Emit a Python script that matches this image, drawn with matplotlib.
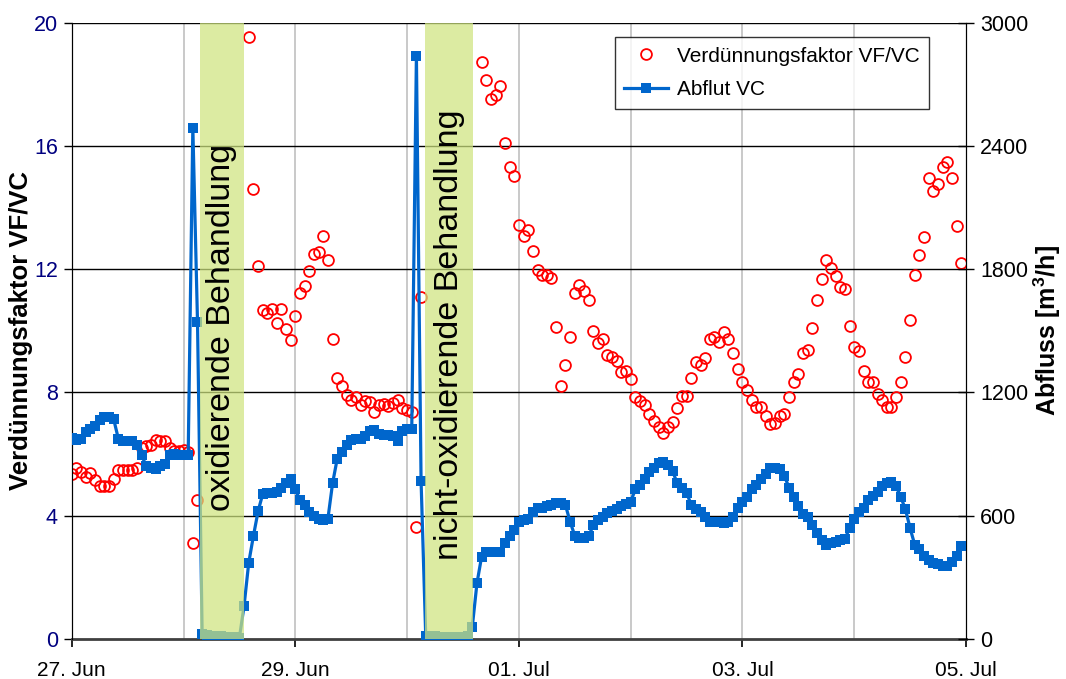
import numpy as np
import pandas as pd
import matplotlib
matplotlib.use("Agg")
import matplotlib.pyplot as plt
import matplotlib.dates as mdates

plt.rcParams['font.family'] = ['Liberation Sans', 'DejaVu Sans']

# hourly time axis starting 27 Jun
start = "2006-06-27 00:00"
n_hours = 192

# Verdünnungsfaktor VF/VC (left axis), NaN = no value
nan = np.nan
vf = ([5.34, 5.56, 5.43, 5.25, 5.37, 5.15, 4.97, 4.97, 4.97, 5.2, 5.47, 5.47, 5.47, 5.48,
       5.55, 6.2, 6.26, 6.3, 6.47, 6.43, 6.42, 6.19, 6.1, 6.1, 6.13, 6.05, 3.1, 4.51]
      + [nan] * 10
      + [19.56, 14.6, 12.1, 10.67, 10.57, 10.7, 10.25, 10.7, 10.05, 9.69, 10.47, 11.24, 11.47,
         11.93, 12.51, 12.57, 13.07, 12.29, 9.73, 8.47, 8.21, 7.92, 7.76, 7.85, 7.59, 7.72, 7.7,
         7.37, 7.59, 7.63, 7.55, 7.66, 7.75, 7.5, 7.43, 7.37, 3.62, 11.11]
      + [nan] * 12
      + [18.74, 18.14, 17.53, 17.66, 17.94, 16.1, 15.33, 15.03, 13.45, 13.09, 13.29, 12.6, 11.99,
         11.8, 11.82, 11.73, 10.12, 8.21, 8.9, 9.79, 11.22, 11.49, 11.3, 11.0, 10.01, 9.6, 9.74,
         9.22, 9.14, 9.03, 8.65, 8.71, 8.44, 7.86, 7.72, 7.59, 7.3, 7.08, 6.87, 6.69, 6.89, 7.03,
         7.48, 7.9, 7.9, 8.48, 9.0, 8.89, 9.11, 9.74, 9.79, 9.64, 9.97, 9.75, 9.27, 8.75, 8.33,
         8.08, 7.76, 7.54, 7.54, 7.25, 6.97, 7.02, 7.25, 7.3, 7.86, 8.33, 8.59, 9.27, 9.38, 10.1,
         11.0, 11.68, 12.3, 12.05, 11.78, 11.42, 11.35, 10.16, 9.49, 9.33, 8.71, 8.33, 8.33, 7.95,
         7.76, 7.54, 7.54, 7.86, 8.33, 9.16, 10.35, 11.8, 12.47, 13.04, 14.98, 14.56, 14.77,
         15.33, 15.5, 14.98, 13.41, 12.2])

# Abflut VC in m3/h (right axis)
abfluss = ([980, 970, 975, 1005, 1020, 1035, 1065, 1080, 1080, 1070, 975, 965, 965, 965, 945,
            895, 840, 830, 825, 840, 850, 895, 900, 895, 895, 895, 2490, 1545]
           + [22, 18, 15, 15, 12, 9, 8, 6, 5]
           + [160, 370, 500, 620, 705, 712, 712, 717, 732, 757, 780, 727, 675, 652, 615, 600,
              585, 577, 585, 757, 877, 910, 945, 967, 975, 975, 990, 1012, 1017, 997, 993, 993,
              990, 965, 1012, 1020, 1020, 2840, 770]
           + [13, 12, 12, 10, 10, 10, 10, 10, 10, 15, 58, 270, 400]
           + [420, 420, 420, 420, 465, 502, 528, 570, 576, 585, 615, 635, 637, 645, 652, 663, 663,
              651, 570, 502, 493, 493, 502, 553, 577, 592, 610, 622, 633, 646, 657, 667, 727, 750,
              780, 810, 832, 855, 862, 847, 817, 757, 735, 712, 652, 630, 615, 592, 570, 570, 567,
              562, 570, 594, 637, 667, 690, 727, 750, 780, 802, 831, 831, 825, 795, 735, 690, 645,
              607, 594, 555, 517, 480, 457, 465, 472, 480, 485, 540, 585, 615, 637, 675, 697, 717,
              742, 757, 765, 742, 690, 630, 538, 457, 435, 405, 382, 367, 365, 354, 354, 375, 405,
              450])

assert len(vf) == n_hours and len(abfluss) == n_hours
times = pd.date_range(start, periods=n_hours, freq="h")

# treatment periods (start, end, label, label centre on right axis)
treatments = [("2006-06-28 03:33", "2006-06-28 12:55", "oxidierende Behandlung", 1515),
              ("2006-06-30 03:50", "2006-06-30 14:12", "nicht-oxidierende Behandlung", 1480)]

x_start = pd.Timestamp("2006-06-27")
x_end = pd.Timestamp("2006-07-05")

fig = plt.figure(figsize=(10.66, 6.79), dpi=100)
ax1 = fig.add_axes([0.0673, 0.0594, 0.9062 - 0.0673, 0.966 - 0.0594])
ax2 = ax1.twinx()

ax1.set_xlim(x_start, x_end)
ax1.set_ylim(0, 20)
ax2.set_ylim(0, 3000)

# grid
for d in pd.date_range("2006-06-28", "2006-07-04", freq="D"):
    ax1.axvline(d, color="#c0c0c0", lw=1.2, zorder=0)
for yv in [4, 8, 12, 16, 20]:
    ax1.axhline(yv, color="black", lw=1.0, zorder=0.5)

l1, = ax1.plot(times, vf, linestyle="none", marker="o", markersize=7.8,
               markerfacecolor="none", markeredgecolor="#ff0000", markeredgewidth=1.3,
               label="Verdünnungsfaktor VF/VC", zorder=3)
l2, = ax2.plot(times, abfluss, color="#0066cc", lw=2.3, marker="s", markersize=7.2,
               markeredgewidth=0, label="Abflut VC", zorder=3)

for s, e, txt, ypos in treatments:
    s = pd.Timestamp(s); e = pd.Timestamp(e)
    ax2.axvspan(s, e, color="#cfe47f", alpha=0.72, lw=0, zorder=4)
    mid = s + (e - s) / 2
    ax2.text(mid, ypos, txt, rotation=90, ha="center", va="center", fontsize=24.5,
             color="black", zorder=5)

# x axis
ax1.xaxis.set_major_locator(mdates.DayLocator(interval=2))
ax1.xaxis.set_major_formatter(mdates.DateFormatter("%d. %b"))
ax1.tick_params(axis="x", which="major", direction="out", length=6, width=1.2,
                labelsize=15, pad=10, colors="black")
ax1.set_yticks([0, 4, 8, 12, 16, 20])
ax1.tick_params(axis="y", direction="out", length=6, width=1, labelsize=15.5,
                labelcolor="#000080", pad=4)
ax2.set_yticks([0, 600, 1200, 1800, 2400, 3000])
ax2.tick_params(axis="y", direction="inout", length=12, width=1, labelsize=15.5, pad=4)

for sp in ["top"]:
    ax1.spines[sp].set_visible(False)
    ax2.spines[sp].set_visible(False)
ax1.spines["bottom"].set_color("#404040")
ax1.spines["bottom"].set_linewidth(2)
ax2.spines["bottom"].set_visible(False)

ax1.set_ylabel("Verdünnungsfaktor VF/VC", fontsize=18.5, fontweight="bold")
ax1.yaxis.set_label_coords(-0.043, 0.5)
ax2.set_ylabel("Abfluss [m$^\\mathregular{3}$/h]", fontsize=18, fontweight="bold")
ax2.yaxis.set_label_coords(1.073, 0.5)

leg = ax2.legend(handles=[l1, l2], loc="upper right", bbox_to_anchor=(0.959, 0.977),
                 borderaxespad=0, fontsize=15, frameon=True, fancybox=False,
                 edgecolor="black", borderpad=0.45, handlelength=2.1, handletextpad=0.45,
                 labelspacing=0.7)
leg.get_frame().set_linewidth(1.0)
leg.set_zorder(10)

fig.savefig("out.png", dpi=100)
